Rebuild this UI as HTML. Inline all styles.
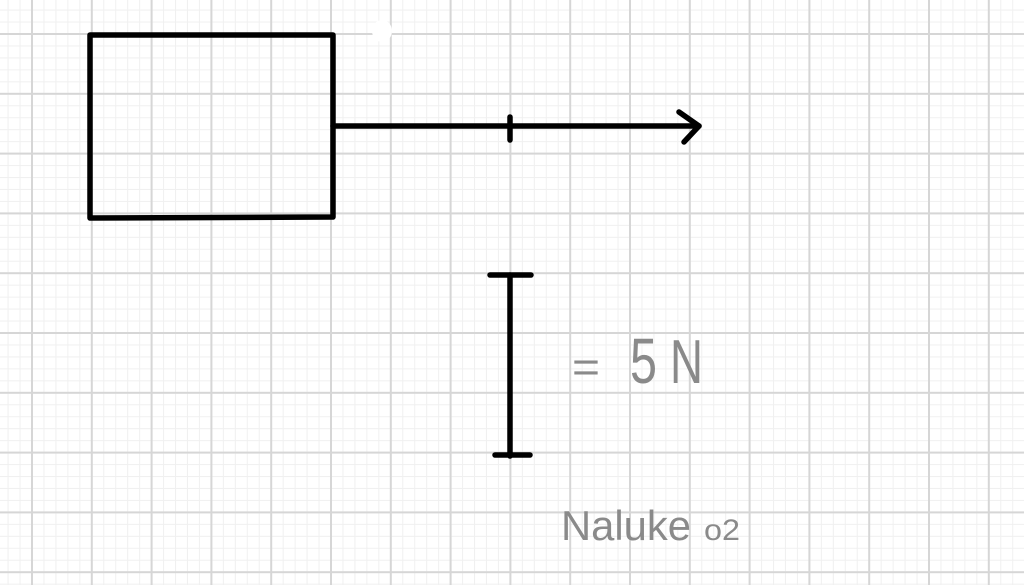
<!DOCTYPE html>
<html>
<head>
<meta charset="utf-8">
<style>
  html,body{margin:0;padding:0;background:#fff;}
  body{width:1024px;height:585px;overflow:hidden;}
  svg{display:block;}
</style>
</head>
<body>
<svg width="1024" height="585" viewBox="0 0 1024 585" xmlns="http://www.w3.org/2000/svg">
  <defs>
    <pattern id="grid" x="32" y="34" width="59.8" height="59.8" patternUnits="userSpaceOnUse">
      <g stroke="#f0f0f0" stroke-width="1">
        <line x1="11.96" y1="0" x2="11.96" y2="59.8"/>
        <line x1="23.92" y1="0" x2="23.92" y2="59.8"/>
        <line x1="35.88" y1="0" x2="35.88" y2="59.8"/>
        <line x1="47.84" y1="0" x2="47.84" y2="59.8"/>
        <line y1="11.96" x1="0" y2="11.96" x2="59.8"/>
        <line y1="23.92" x1="0" y2="23.92" x2="59.8"/>
        <line y1="35.88" x1="0" y2="35.88" x2="59.8"/>
        <line y1="47.84" x1="0" y2="47.84" x2="59.8"/>
      </g>
      <g stroke="#d6d6d6" stroke-width="2">
        <line x1="0" y1="0" x2="0" y2="59.8"/>
        <line x1="59.8" y1="0" x2="59.8" y2="59.8"/>
        <line x1="0" y1="0" x2="59.8" y2="0"/>
        <line x1="0" y1="59.8" x2="59.8" y2="59.8"/>
      </g>
    </pattern>
  </defs>
  <rect x="0" y="0" width="1024" height="585" fill="#fff"/>
  <rect x="0" y="0" width="1024" height="585" fill="url(#grid)"/>

  <!-- white smudge -->
  <ellipse cx="382" cy="31" rx="10" ry="11" fill="#fff"/>

  <g stroke="#000" stroke-width="5.5" fill="none" stroke-linecap="round" stroke-linejoin="round">
    <path d="M90 218 L90 35 L333 35 L333 217 L90 218"/>
    <line x1="333" y1="126" x2="699" y2="126"/>
    <path d="M679 112 L699 126 L684 142"/>
    <line x1="510" y1="117" x2="510" y2="140"/>
    <line x1="510" y1="275" x2="510" y2="456"/>
    <line x1="490" y1="275" x2="531" y2="275"/>
    <line x1="495" y1="455" x2="530" y2="455"/>
  </g>

  <g font-family="'Liberation Sans', sans-serif" fill="#8a8a8a">
    <text x="572" y="382" font-size="44" textLength="28" lengthAdjust="spacingAndGlyphs">=</text>
    <text x="630" y="383" font-size="64" textLength="27" lengthAdjust="spacingAndGlyphs">5</text>
    <text x="670" y="383" font-size="62" textLength="33" lengthAdjust="spacingAndGlyphs">N</text>
    <text x="561" y="540" font-size="42" textLength="130" lengthAdjust="spacingAndGlyphs">Naluke</text>
    <text x="704" y="540" font-size="30" textLength="36" lengthAdjust="spacingAndGlyphs">o2</text>
  </g>
</svg>
</body>
</html>
